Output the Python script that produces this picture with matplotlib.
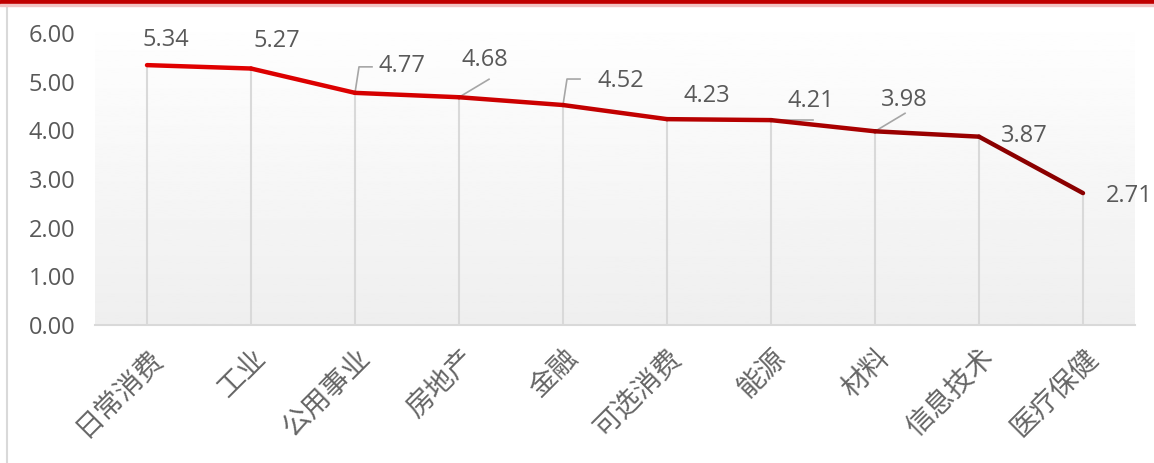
# plot.py - 行业指标折线图

import numpy as np
import matplotlib
matplotlib.use("Agg")
import matplotlib.pyplot as plt
from matplotlib.collections import LineCollection
from matplotlib.colors import to_rgb
from matplotlib.patches import Rectangle
from matplotlib.lines import Line2D

plt.rcParams['font.family'] = ['Noto Sans CJK SC', 'DejaVu Sans']

# =========================
# DATA
# =========================

sectors = ["日常消费", "工业", "公用事业", "房地产", "金融",
           "可选消费", "能源", "材料", "信息技术", "医疗保健"]
values = [5.34, 5.27, 4.77, 4.68, 4.52, 4.23, 4.21, 3.98, 3.87, 2.71]
y_ticks = [0, 1, 2, 3, 4, 5, 6]

# label offsets (pixels) and leader style per point
label_offsets = [(19, 25), (26, 28), (47, 27), (26, 37), (58, 24),
                 (40, 23), (40, 19), (29, 31), (45, 1), (46, -3)]
leaders = [None, None, "elbow", "diag", "elbow", None, "flat", "diag", None, None]

# =========================
# FIGURE
# =========================

fig = plt.figure(figsize=(11.54, 4.63), dpi=100)
fig.patch.set_facecolor("white")

# top red bar + left border
fig.patches.append(Rectangle((0, 1 - 4 / 463), 1, 4 / 463, transform=fig.transFigure,
                             color="#C00000", zorder=5))
fig.patches.append(Rectangle((0, 1 - 6 / 463), 1, 2 / 463, transform=fig.transFigure,
                             color="#F2C4C4", zorder=5))
fig.lines.append(Line2D([7 / 1154, 7 / 1154], [0, 1 - 6 / 463], transform=fig.transFigure,
                        color="#D9D9D9", linewidth=1.5))

ax = fig.add_axes([95 / 1154, 138 / 463, 1040 / 1154, 292 / 463])

x = np.arange(len(sectors))

# gradient background
grad = np.linspace(1.0, 0.935, 256).reshape(-1, 1)
ax.imshow(grad, extent=[-0.5, len(sectors) - 0.5, 0, 6.4], aspect="auto",
          cmap="gray", vmin=0, vmax=1, zorder=0, clip_on=False)
ax.set_xlim(-0.5, len(sectors) - 0.5)
ax.set_ylim(0, 6)

# drop lines
ax.vlines(x, 0, values, color="#D9D9D9", linewidth=1.5, zorder=1)

# line with colour fading to dark red
pts = np.column_stack([x, values])
segs = np.stack([pts[:-1], pts[1:]], axis=1)
c1 = np.array(to_rgb("#E00000"))
c2 = np.array(to_rgb("#8B0000"))
t = np.linspace(0, 1, len(segs)) ** 1.5
cols = [tuple(c1 + (c2 - c1) * k) for k in t]
lc = LineCollection(segs, colors=cols, linewidth=3.2, capstyle="round",
                    joinstyle="round", zorder=3)
ax.add_collection(lc)

# data labels
for i, v in enumerate(values):
    dx, dy = label_offsets[i]
    ax.annotate(f"{v:.2f}", (x[i], v), xytext=(dx, dy), textcoords="offset pixels",
                ha="center", va="center", fontsize=17, color="#595959",
                family=["Open Sans", "DejaVu Sans"], zorder=4, annotation_clip=False)
    kind = leaders[i]
    px, py = ax.transData.transform((x[i], v))
    inv = ax.transData.inverted()
    if kind == "elbow":
        xs = [px, px + 4, px + 17]
        ys = [py, py + 26, py + 26]
    elif kind == "diag":
        xs = [px, px + 30]
        ys = [py, py + 18]
    elif kind == "flat":
        xs = [px, px + 42]
        ys = [py, py]
    else:
        continue
    d = inv.transform(np.column_stack([xs, ys]))
    ax.plot(d[:, 0], d[:, 1], color="#A6A6A6", linewidth=1.2, zorder=2, clip_on=False)

# =========================
# AXES STYLE
# =========================

ax.set_xticks(x)
ax.set_xticklabels(sectors, rotation=45, ha="right", va="top",
                   rotation_mode="anchor", fontsize=20, color="#666666",
                   fontweight="light")
ax.set_yticks(y_ticks)
ax.set_yticklabels([f"{v:.2f}" for v in y_ticks], fontsize=17, color="#595959",
                   family=["Open Sans", "DejaVu Sans"])
ax.tick_params(axis="both", length=0)
ax.tick_params(axis="y", pad=14)
ax.tick_params(axis="x", pad=13)

for side in ["top", "right", "left"]:
    ax.spines[side].set_visible(False)
ax.spines["bottom"].set_color("#D9D9D9")
ax.spines["bottom"].set_linewidth(1.5)

fig.savefig("out.png", dpi=100)
